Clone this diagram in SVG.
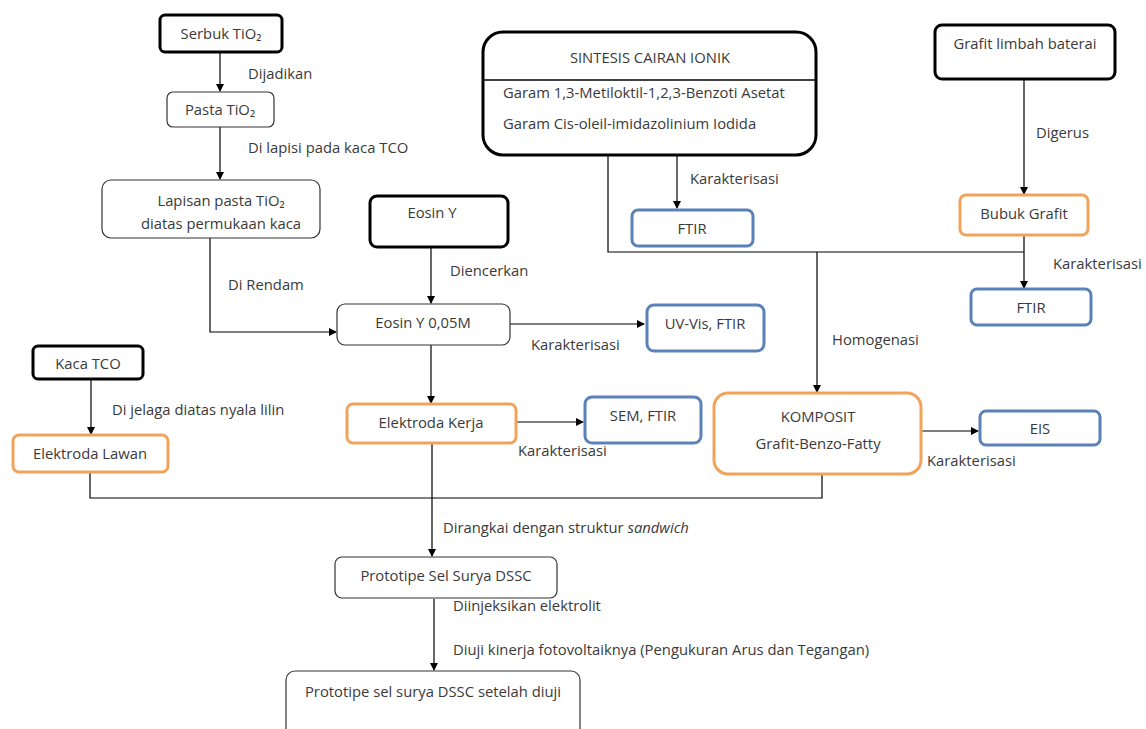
<svg xmlns="http://www.w3.org/2000/svg" width="1146" height="729" viewBox="0 0 1146 729">
<defs>
<marker id="ah" markerWidth="8" markerHeight="8" refX="7" refY="4" orient="auto" markerUnits="userSpaceOnUse">
<path d="M0,0 L8,4 L0,8 Z" fill="#000"/>
</marker>
<style>
.t{font-family:"Open Sans","Liberation Sans",sans-serif;font-size:14.8px;fill:#3a3a3a}
.m{text-anchor:middle}
.thick{fill:#fff;stroke:#000;stroke-width:3}
.thin{fill:#fff;stroke:#333;stroke-width:1.2}
.or{fill:#fff;stroke:#f1a35c;stroke-width:3}
.bl{fill:#fff;stroke:#5a82b8;stroke-width:3}
.c{fill:none;stroke:#000;stroke-width:1.2}
.a{marker-end:url(#ah)}
</style>
</defs>
<rect width="1146" height="729" fill="#fff"/>

<g id="connectors">
<line class="c a" x1="220" y1="53" x2="220" y2="91"/>
<line class="c a" x1="220" y1="127" x2="220" y2="179"/>
<polyline class="c a" points="210,238 210,332 336,332"/>
<line class="c a" x1="431" y1="247" x2="431" y2="303"/>
<line class="c a" x1="510" y1="324" x2="644" y2="324"/>
<line class="c a" x1="431" y1="345" x2="431" y2="403"/>
<line class="c a" x1="516" y1="422" x2="583" y2="422"/>
<line class="c a" x1="921" y1="431" x2="978" y2="431"/>
<line class="c a" x1="677" y1="155" x2="677" y2="208"/>
<polyline class="c" points="608,155 608,252 1024,252"/>
<line class="c a" x1="817" y1="252" x2="817" y2="392"/>
<line class="c a" x1="1024" y1="79" x2="1024" y2="194"/>
<line class="c a" x1="1024" y1="235" x2="1024" y2="288"/>
<line class="c a" x1="91" y1="379" x2="91" y2="434"/>
<polyline class="c" points="90,472 90,498 822,498 822,474"/>
<line class="c a" x1="432" y1="443" x2="432" y2="556"/>
<line class="c a" x1="434" y1="599" x2="434" y2="670"/>
</g>

<g id="serbuk"><rect class="thick" x="160" y="15" width="122" height="37" rx="5"/><text class="t m" x="221" y="39">Serbuk TiO₂</text></g>
<g id="pasta"><rect class="thin" x="167" y="92" width="107" height="35" rx="6"/><text class="t m" x="220" y="115">Pasta TiO₂</text></g>
<g id="lapisan"><rect class="thin" x="102" y="180" width="218" height="58" rx="9"/><text class="t m" x="221" y="206">Lapisan pasta TiO₂</text><text class="t m" x="221" y="229">diatas permukaan kaca</text></g>
<g id="eosin"><rect class="thick" x="370" y="196" width="138" height="51" rx="7"/><text class="t m" x="432" y="218">Eosin Y</text></g>
<g id="eosin005"><rect class="thin" x="337" y="304" width="173" height="41" rx="8"/><text class="t m" x="423" y="328">Eosin Y 0,05M</text></g>
<g id="uvvis"><rect class="bl" x="647" y="305" width="117" height="46" rx="7"/><text class="t m" x="705" y="329">UV-Vis, FTIR</text></g>
<g id="kerja"><rect class="or" x="347" y="404" width="169" height="39" rx="6"/><text class="t m" x="431" y="428">Elektroda Kerja</text></g>
<g id="sem"><rect class="bl" x="585" y="397" width="116" height="46" rx="7"/><text class="t m" x="643" y="421">SEM, FTIR</text></g>
<g id="komposit"><rect class="or" x="714" y="393" width="207" height="81" rx="14"/><text class="t m" x="818" y="422">KOMPOSIT</text><text class="t m" x="818" y="449">Grafit-Benzo-Fatty</text></g>
<g id="eis"><rect class="bl" x="980" y="411" width="120" height="34" rx="6"/><text class="t m" x="1040" y="434">EIS</text></g>
<g id="sintesis"><rect class="thick" x="483" y="32" width="333" height="123" rx="20"/><line x1="483" y1="80" x2="816" y2="80" stroke="#000" stroke-width="1.5"/><text class="t m" x="650" y="63">SINTESIS CAIRAN IONIK</text><text class="t" x="503" y="98">Garam 1,3-Metiloktil-1,2,3-Benzoti Asetat</text><text class="t" x="503" y="129">Garam Cis-oleil-imidazolinium Iodida</text></g>
<g id="ftir1"><rect class="bl" x="632" y="210" width="121" height="36" rx="6"/><text class="t m" x="692" y="234">FTIR</text></g>
<g id="grafit"><rect class="thick" x="935" y="25" width="180" height="54" rx="7"/><text class="t m" x="1025" y="49">Grafit limbah baterai</text></g>
<g id="bubuk"><rect class="or" x="960" y="195" width="128" height="40" rx="6"/><text class="t m" x="1024" y="219">Bubuk Grafit</text></g>
<g id="ftir2"><rect class="bl" x="971" y="289" width="120" height="36" rx="6"/><text class="t m" x="1031" y="313">FTIR</text></g>
<g id="kaca"><rect class="thick" x="33" y="346" width="110" height="33" rx="5"/><text class="t m" x="88" y="369">Kaca TCO</text></g>
<g id="lawan"><rect class="or" x="13" y="435" width="155" height="37" rx="6"/><text class="t m" x="90" y="459">Elektroda Lawan</text></g>
<g id="prototipe"><rect class="thin" x="335" y="557" width="222" height="41" rx="7"/><text class="t m" x="446" y="581">Prototipe Sel Surya DSSC</text></g>
<g id="prototipe2"><rect class="thin" x="286" y="671" width="294" height="70" rx="9"/><text class="t m" x="433" y="697">Prototipe sel surya DSSC setelah diuji</text></g>

<g id="labels">
<text class="t" x="248" y="79">Dijadikan</text>
<text class="t" x="248" y="153">Di lapisi pada kaca TCO</text>
<text class="t" x="228" y="290">Di Rendam</text>
<text class="t" x="450" y="276">Diencerkan</text>
<text class="t" x="531" y="350">Karakterisasi</text>
<text class="t" x="518" y="456">Karakterisasi</text>
<text class="t" x="927" y="466">Karakterisasi</text>
<text class="t" x="690" y="184">Karakterisasi</text>
<text class="t" x="832" y="345">Homogenasi</text>
<text class="t" x="1036" y="138">Digerus</text>
<text class="t" x="1053" y="269">Karakterisasi</text>
<text class="t" x="112" y="415">Di jelaga diatas nyala lilin</text>
<text class="t" x="443" y="533">Dirangkai dengan struktur <tspan font-style="italic">sandwich</tspan></text>
<text class="t" x="453" y="611">Diinjeksikan elektrolit</text>
<text class="t" x="453" y="655">Diuji kinerja fotovoltaiknya (Pengukuran Arus dan Tegangan)</text>
</g>
</svg>
